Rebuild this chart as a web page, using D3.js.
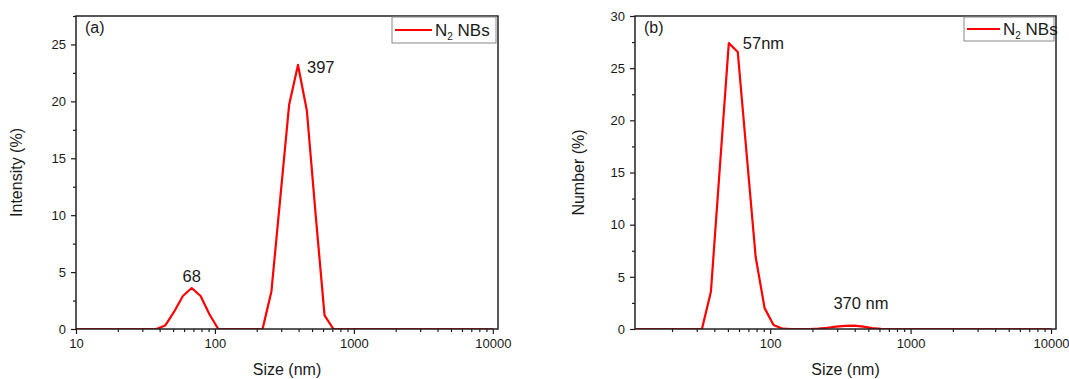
<!DOCTYPE html>
<html>
<head>
<meta charset="utf-8">
<script src="https://cdn.jsdelivr.net/npm/d3@7"></script>
<style>
  body { margin: 0; background: #fff; }
  svg { display: block; font-family: "Liberation Sans", Arial, sans-serif; }
</style>
</head>
<body>
<div class="chart"></div>
<script>
// DLS size bins (nm)
const sizes = [10.10, 11.70, 13.54, 15.69, 18.17, 21.04, 24.36, 28.21, 32.67, 37.84,
  43.82, 50.75, 58.77, 68.06, 78.82, 91.28, 105.7, 122.4, 141.8, 164.2,
  190.1, 220.2, 255.0, 295.3, 342.0, 396.1, 458.7, 531.2, 615.1, 712.4,
  825.0, 955.4, 1106, 1281, 1484, 1718, 1990, 2305, 2669, 3091,
  3580, 4145, 4801, 5560, 6439, 7456, 8635, 10000];

// (a) intensity distribution (%)
const intensity = [0, 0, 0, 0, 0, 0, 0, 0, 0, 0,
  0.3, 1.5, 2.9, 3.6, 2.9, 1.3, 0, 0, 0, 0,
  0, 0, 3.3, 11.5, 19.7, 23.2, 19.2, 10.0, 1.2, 0,
  0, 0, 0, 0, 0, 0, 0, 0, 0, 0,
  0, 0, 0, 0, 0, 0, 0, 0];

// (b) number distribution (%)
const number = [0, 0, 0, 0, 0, 0, 0, 0, 0, 3.57,
  15.5, 27.4, 26.55, 16.7, 6.9, 2.0, 0.38, 0.03, 0, 0,
  0, 0.05, 0.12, 0.22, 0.3, 0.32, 0.22, 0.08, 0.01, 0,
  0, 0, 0, 0, 0, 0, 0, 0, 0, 0,
  0, 0, 0, 0, 0, 0, 0, 0];

const xTicksA = [10, 100, 1000, 10000];
const xTicksB = [100, 1000, 10000];
const yTicksA = [0, 5, 10, 15, 20, 25];
const yTicksB = [0, 5, 10, 15, 20, 25, 30];

const totalWidth = 1069, totalHeight = 379;
const ink = "#1a1a1a";

const svg = d3.select(".chart").append("svg")
  .attr("width", totalWidth)
  .attr("height", totalHeight);

function drawPanel(p) {
  const g = svg.append("g");
  const x = d3.scaleLog().domain(p.xDomain).range([p.left, p.right]);
  const y = d3.scaleLinear().domain([0, p.yMax]).range([p.bottom, p.top]);

  // minor ticks
  const xMinor = x.ticks().filter((d) => !p.xTicks.includes(d));
  const yMinor = d3.range(2.5, p.yMax + 0.01, 5);

  g.append("g")
    .attr("transform", `translate(0,${p.bottom})`)
    .call(d3.axisBottom(x).tickValues(xMinor).tickSize(3).tickFormat(""))
    .call((a) => a.select(".domain").remove());
  g.append("g")
    .attr("transform", `translate(${p.left},0)`)
    .call(d3.axisLeft(y).tickValues(yMinor).tickSize(3).tickFormat(""))
    .call((a) => a.select(".domain").remove());

  const xAxis = g.append("g")
    .attr("transform", `translate(0,${p.bottom})`)
    .call(d3.axisBottom(x).tickValues(p.xTicks).tickSize(5).tickPadding(5)
      .tickFormat(d3.format("d")));
  const yAxis = g.append("g")
    .attr("transform", `translate(${p.left},0)`)
    .call(d3.axisLeft(y).tickValues(p.yTicks).tickSize(5).tickPadding(5));
  [xAxis, yAxis].forEach((a) => {
    a.select(".domain").remove();
    a.selectAll("text").attr("font-size", 13).attr("fill", ink)
      .attr("font-family", "Liberation Sans, Arial, sans-serif");
  });
  g.selectAll(".tick line").attr("stroke", ink).attr("stroke-width", 1.2);

  // clip + line
  g.append("clipPath").attr("id", p.id + "-clip")
    .append("rect")
    .attr("x", p.left).attr("y", p.top)
    .attr("width", p.right - p.left).attr("height", p.bottom - p.top);

  const line = d3.line()
    .x((d, i) => x(sizes[i]))
    .y((d) => y(d));

  g.append("path")
    .datum(p.values)
    .attr("clip-path", `url(#${p.id}-clip)`)
    .attr("fill", "none")
    .attr("stroke", "#ff0000")
    .attr("stroke-width", 2.2)
    .attr("stroke-linejoin", "round")
    .attr("d", line);

  // frame
  g.append("rect")
    .attr("x", p.left).attr("y", p.top)
    .attr("width", p.right - p.left).attr("height", p.bottom - p.top)
    .attr("fill", "none")
    .attr("stroke", "#222")
    .attr("stroke-width", 1.5);

  // panel tag
  g.append("text")
    .attr("x", p.left + 9).attr("y", p.top + 17)
    .attr("font-size", 16).attr("fill", ink)
    .text(p.tag);

  // axis titles
  g.append("text")
    .attr("x", (p.left + p.right) / 2).attr("y", 375)
    .attr("text-anchor", "middle")
    .attr("font-size", 16).attr("fill", ink)
    .text("Size (nm)");
  g.append("text")
    .attr("transform", `translate(${p.left - p.titleOffset},${(p.top + p.bottom) / 2}) rotate(-90)`)
    .attr("text-anchor", "middle")
    .attr("font-size", 16).attr("fill", ink)
    .text(p.yTitle);

  // peak labels
  p.labels.forEach((l) => {
    g.append("text")
      .attr("x", x(l.size) + l.dx).attr("y", y(l.value) + l.dy)
      .attr("text-anchor", l.anchor)
      .attr("font-size", 16.5).attr("fill", ink)
      .text(l.text);
  });

  // legend
  const lg = g.append("g").attr("transform", `translate(${p.legendX},${p.top + 1})`);
  lg.append("rect")
    .attr("x", 0).attr("y", 0)
    .attr("width", p.right - 2 - p.legendX).attr("height", p.legendH)
    .attr("fill", "#fff")
    .attr("stroke", "#888")
    .attr("stroke-width", 1);
  lg.append("line")
    .attr("x1", 3).attr("x2", p.legendLine)
    .attr("y1", p.legendH / 2).attr("y2", p.legendH / 2)
    .attr("stroke", "#ff0000").attr("stroke-width", 2.2);
  const lt = lg.append("text")
    .attr("x", p.legendLine + 3).attr("y", p.legendH / 2 + 6)
    .attr("font-size", 17).attr("fill", ink);
  lt.append("tspan").text("N");
  lt.append("tspan").attr("font-size", 10).attr("dy", 4).text("2");
  lt.append("tspan").attr("dy", -4).text(" NBs");
}

drawPanel({
  id: "a", tag: "(a)",
  left: 76, right: 498, top: 16, bottom: 329,
  xDomain: [10, 10900], xTicks: xTicksA,
  yMax: 27.5, yTicks: yTicksA,
  values: intensity,
  yTitle: "Intensity (%)", titleOffset: 54,
  legendX: 392, legendH: 26, legendLine: 40,
  labels: [
    { text: "397", size: 396.1, value: 23.2, dx: 9, dy: 8, anchor: "start" },
    { text: "68", size: 68.06, value: 3.6, dx: 0, dy: -6, anchor: "middle" }
  ]
});

drawPanel({
  id: "b", tag: "(b)",
  left: 635, right: 1056, top: 16, bottom: 329,
  xDomain: [10.9, 10850], xTicks: xTicksB,
  yMax: 30, yTicks: yTicksB,
  values: number,
  yTitle: "Number (%)", titleOffset: 51,
  legendX: 964, legendH: 24, legendLine: 36,
  labels: [
    { text: "57nm", size: 50.75, value: 27.4, dx: 14, dy: 6, anchor: "start" },
    { text: "370 nm", size: 370, value: 0.3, dx: 11, dy: -17, anchor: "middle" }
  ]
});
</script>
</body>
</html>
